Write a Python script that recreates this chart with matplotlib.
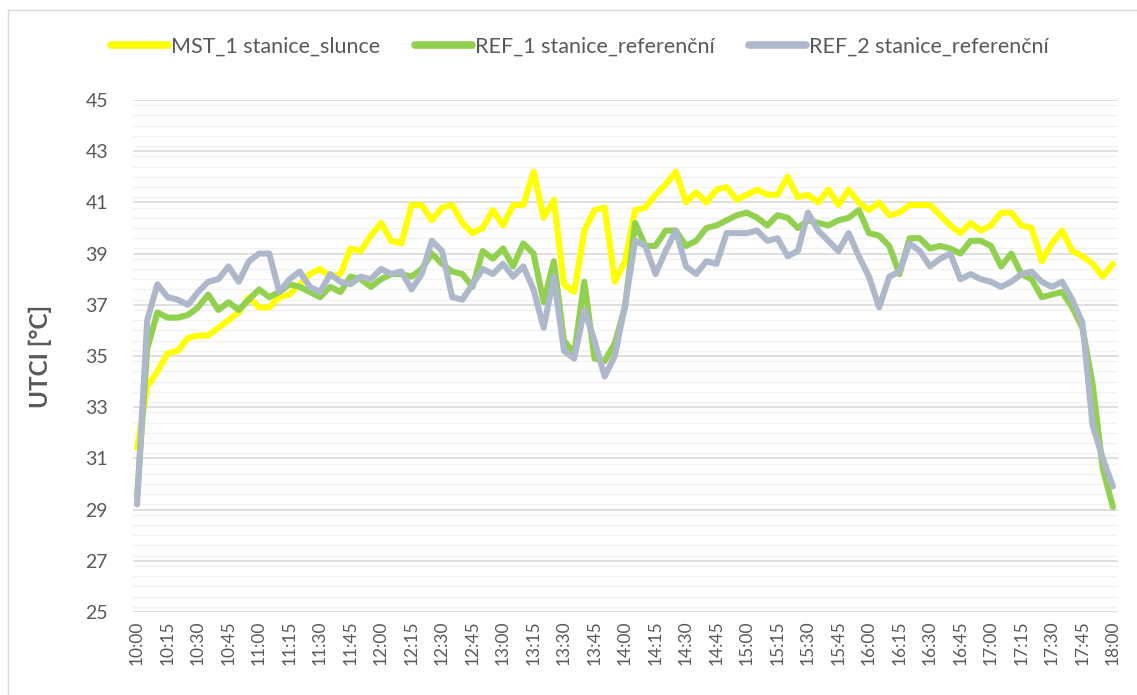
import matplotlib
matplotlib.use("Agg")
import matplotlib.pyplot as plt
from matplotlib.patches import Rectangle
from matplotlib.ticker import MultipleLocator, FixedLocator

# ---- data (5-minute steps, 10:00 .. 18:00) ----
mst1 = [31.4, 33.8, 34.4, 35.1, 35.2, 35.7, 35.8, 35.8, 36.1, 36.4, 36.7, 37.3, 36.9, 36.9, 37.3, 37.4,
        37.8, 38.2, 38.4, 38.1, 38.2, 39.2, 39.1, 39.7, 40.2, 39.5, 39.4, 40.9, 40.9, 40.3, 40.8, 40.9,
        40.2, 39.8, 40.0, 40.7, 40.1, 40.9, 40.9, 42.2, 40.4, 41.1, 37.8, 37.5, 39.9, 40.7, 40.8, 37.9,
        38.7, 40.7, 40.8, 41.3, 41.7, 42.2, 41.0, 41.4, 41.0, 41.5, 41.6, 41.1, 41.3, 41.5, 41.3, 41.3,
        42.0, 41.2, 41.3, 41.0, 41.5, 40.9, 41.5, 41.0, 40.7, 41.0, 40.5, 40.6, 40.9, 40.9, 40.9, 40.5,
        40.1, 39.8, 40.2, 39.9, 40.1, 40.6, 40.6, 40.1, 40.0, 38.7, 39.4, 39.9, 39.1, 38.9, 38.6, 38.1,
        38.6]
ref1 = [29.5, 35.3, 36.7, 36.5, 36.5, 36.6, 36.9, 37.4, 36.8, 37.1, 36.8, 37.2, 37.6, 37.3, 37.5, 37.8,
        37.7, 37.5, 37.3, 37.7, 37.5, 38.1, 38.0, 37.7, 38.0, 38.2, 38.2, 38.1, 38.4, 39.0, 38.6, 38.3,
        38.2, 37.7, 39.1, 38.8, 39.2, 38.5, 39.4, 39.0, 37.1, 38.7, 35.6, 35.1, 37.9, 34.9, 34.8, 35.5,
        36.9, 40.2, 39.3, 39.3, 39.9, 39.9, 39.3, 39.5, 40.0, 40.1, 40.3, 40.5, 40.6, 40.4, 40.1, 40.5,
        40.4, 40.0, 40.3, 40.2, 40.1, 40.3, 40.4, 40.7, 39.8, 39.7, 39.3, 38.2, 39.6, 39.6, 39.2, 39.3,
        39.2, 39.0, 39.5, 39.5, 39.3, 38.5, 39.0, 38.2, 38.0, 37.3, 37.4, 37.5, 36.9, 36.1, 33.9, 30.6,
        29.1]
ref2 = [29.2, 36.4, 37.8, 37.3, 37.2, 37.0, 37.5, 37.9, 38.0, 38.5, 37.9, 38.7, 39.0, 39.0, 37.5, 38.0,
        38.3, 37.7, 37.5, 38.2, 37.9, 37.8, 38.1, 38.0, 38.4, 38.2, 38.3, 37.6, 38.2, 39.5, 39.1, 37.3,
        37.2, 37.8, 38.4, 38.2, 38.6, 38.1, 38.5, 37.6, 36.1, 38.1, 35.2, 34.9, 36.8, 35.6, 34.2, 35.0,
        37.0, 39.5, 39.3, 38.2, 39.1, 39.9, 38.5, 38.2, 38.7, 38.6, 39.8, 39.8, 39.8, 39.9, 39.5, 39.6,
        38.9, 39.1, 40.6, 39.9, 39.5, 39.1, 39.8, 38.9, 38.1, 36.9, 38.1, 38.3, 39.4, 39.1, 38.5, 38.8,
        39.0, 38.0, 38.2, 38.0, 37.9, 37.7, 37.9, 38.2, 38.3, 37.9, 37.7, 37.9, 37.2, 36.3, 32.3, 31.0,
        29.9]
tick_labels = ["10:00", "10:15", "10:30", "10:45", "11:00", "11:15", "11:30", "11:45",
               "12:00", "12:15", "12:30", "12:45", "13:00", "13:15", "13:30", "13:45",
               "14:00", "14:15", "14:30", "14:45", "15:00", "15:15", "15:30", "15:45",
               "16:00", "16:15", "16:30", "16:45", "17:00", "17:15", "17:30", "17:45", "18:00"]
series_names = ["MST_1 stanice_slunce", "REF_1 stanice_referenční", "REF_2 stanice_referenční"]
colors = ["#FFFF00", "#92D050", "#ADB9CA"]

plt.rcParams['font.family'] = ['Lato', 'DejaVu Sans']

W, H = 1137, 695
fig = plt.figure(figsize=(W / 100, H / 100), dpi=100)
ax = fig.add_axes([133 / W, 1 - 612 / H, (1118 - 133) / W, (612 - 100) / H])

x = list(range(len(mst1)))
for vals, name, c in zip([mst1, ref1, ref2], series_names, colors):
    ax.plot(x, vals, color=c, lw=4.4, label=name,
            solid_joinstyle='round', solid_capstyle='round', zorder=3)

ax.set_xlim(-0.4, len(mst1) - 1 + 0.5)
ax.set_ylim(25, 45)
ax.yaxis.set_major_locator(MultipleLocator(2))
ax.yaxis.set_minor_locator(MultipleLocator(0.4))
ax.set_yticks(range(25, 46, 2))
ax.xaxis.set_major_locator(FixedLocator(list(range(0, len(mst1), 3))))
ax.set_xticklabels(tick_labels, rotation=90, fontsize=12.5, color="#595959")
ax.tick_params(axis='y', labelsize=14, labelcolor="#595959", length=0, pad=18)
ax.tick_params(axis='x', length=0, pad=6)
ax.tick_params(which='minor', length=0)

ax.grid(axis='y', which='minor', color='#F2F2F2', lw=1.0, zorder=0)
ax.grid(axis='y', which='major', color='#D9D9D9', lw=1.2, zorder=1)
for s in ax.spines.values():
    s.set_visible(False)

ax.set_ylabel("UTCI [°C]", fontsize=17.5, fontweight='bold', color="#595959", labelpad=24)

leg = fig.legend(loc='center', bbox_to_anchor=(580 / W, 1 - 47 / H), ncol=3, frameon=False,
                 fontsize=15.5, handlelength=2.65, handletextpad=0.15, columnspacing=1.6)
for t in leg.get_texts():
    t.set_color("#595959")
for h in leg.legend_handles:
    h.set_linewidth(5.5)

fig.patches.append(Rectangle((8 / W, -0.2), 1.2, 1.2 - 10 / H, transform=fig.transFigure,
                             fill=False, edgecolor='#D9D9D9', lw=1.0))

fig.savefig("out.png", dpi=100)
